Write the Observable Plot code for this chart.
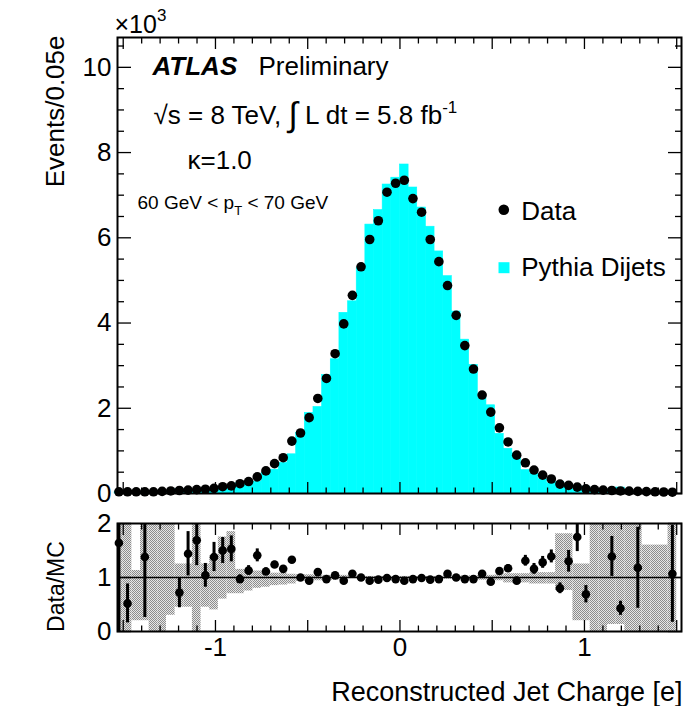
<!DOCTYPE html>
<html>
<head>
<meta charset="utf-8">
<script src="https://cdn.jsdelivr.net/npm/d3@7"></script>
<script src="https://cdn.jsdelivr.net/npm/@observablehq/plot@0.6"></script>
<style>
  html, body { margin: 0; padding: 0; background: #ffffff; }
  #chart { position: relative; width: 685px; height: 706px; background: #ffffff; }
  #chart svg { position: absolute; left: 0; }
</style>
</head>
<body>
<div id="chart"></div>
<script>
// ---------- data (in units of 10^3 events) ----------
const binLow = -1.546875;     // lower edge of the first bin
const binWidth = 0.046875;    // bin width
const mcCounts = [
  0.03, 0.03, 0.02, 0.03, 0.03, 0.04, 0.05, 0.10, 0.055, 0.05,
  0.10, 0.09, 0.11, 0.12, 0.24, 0.25, 0.28, 0.48, 0.56, 0.72,
  0.92, 1.42, 1.89, 2.03, 2.78, 3.15, 4.24, 4.51, 5.30, 6.31,
  6.65, 7.25, 7.41, 7.72, 7.18, 6.71, 6.26, 5.68, 5.10, 4.27,
  3.61, 3.02, 2.25, 2.07, 1.40, 1.05, 0.94, 0.55, 0.47, 0.34,
  0.24, 0.27, 0.15, 0.09, 0.16, 0.04, 0.04, 0.05, 0.14, 0.03,
  0.04, 0.03, 0.02, 0.02, 0.03
];
const dataCounts = [
  0.04, 0.04, 0.04, 0.04, 0.04, 0.05, 0.06, 0.07, 0.08, 0.09,
  0.10, 0.12, 0.16, 0.18, 0.23, 0.28, 0.39, 0.53, 0.70, 0.84,
  1.23, 1.42, 1.78, 2.23, 2.70, 3.28, 3.98, 4.65, 5.32, 5.96,
  6.40, 7.07, 7.28, 7.35, 6.92, 6.60, 5.96, 5.44, 4.88, 4.18,
  3.47, 2.92, 2.31, 1.91, 1.54, 1.21, 0.90, 0.72, 0.55, 0.43,
  0.34, 0.22, 0.19, 0.15, 0.11, 0.09, 0.08, 0.07, 0.06, 0.055,
  0.05, 0.045, 0.04, 0.035, 0.03
];
const ratioValues = [
  1.64, 0.52, null, 1.38, null, null, null, 0.72, 1.44, 1.69,
  1.04, 1.38, 1.50, 1.53, 0.97, 1.13, 1.41, 1.11, 1.24, 1.16,
  1.33, 1.00, 0.94, 1.10, 0.97, 1.04, 0.94, 1.07, 1.00, 0.94,
  0.96, 0.99, 0.97, 0.94, 0.97, 0.99, 0.96, 0.97, 1.07, 1.00,
  0.97, 0.97, 1.07, 0.92, 1.12, 1.17, 0.94, 1.31, 1.16, 1.28,
  1.39, 0.80, 1.30, 1.75, 0.69, null, null, 1.39, 0.43, null,
  1.18, null, null, null, 1.07
];
const ratioErrors = [
  1.80, 0.36, 0, 1.12, 0, 0, 0, 0.28, 0.41, 0.47,
  0.22, 0.27, 0.24, 0.24, 0.08, 0.09, 0.12, 0.07, 0.06, 0.05,
  0.05, 0.04, 0.04, 0.03, 0.03, 0.03, 0.02, 0.02, 0.02, 0.02,
  0.02, 0.02, 0.02, 0.02, 0.02, 0.02, 0.02, 0.02, 0.02, 0.02,
  0.03, 0.03, 0.04, 0.05, 0.06, 0.07, 0.07, 0.10, 0.10, 0.11,
  0.12, 0.10, 0.20, 0.27, 0.16, 0, 0, 0.37, 0.13, 0,
  0.75, 0, 0, 0, 0.90
];
const bandLow = [
  0.00, 0.00, 0.20, 0.20, 0.00, 0.00, 0.30, 0.45, 0.45, 0.00,
  0.45, 0.40, 0.60, 0.70, 0.70, 0.75, 0.80, 0.82, 0.85, 0.86,
  0.88, 0.93, 0.93, 0.94, 0.94, 0.95, 0.95, 0.98, 0.98, 0.98,
  0.98, 0.98, 0.98, 0.98, 0.98, 0.98, 0.98, 0.98, 0.97, 0.97,
  0.96, 0.96, 0.95, 0.95, 0.94, 0.90, 0.90, 0.90, 0.88, 0.88,
  0.88, 0.76, 0.76, 0.20, 0.20, 0.00, 0.00, 0.13, 0.13, 0.00,
  0.00, 0.00, 0.00, 0.00, 0.00
];
const bandHigh = [
  2.00, 2.00, 1.13, 2.00, 2.00, 2.00, 2.00, 1.25, 1.25, 2.00,
  1.25, 1.40, 1.75, 1.85, 1.15, 1.15, 1.12, 1.10, 1.08, 1.08,
  1.06, 1.05, 1.05, 1.04, 1.04, 1.04, 1.04, 1.02, 1.02, 1.02,
  1.02, 1.02, 1.02, 1.02, 1.02, 1.02, 1.02, 1.02, 1.03, 1.03,
  1.03, 1.03, 1.04, 1.04, 1.05, 1.07, 1.07, 1.07, 1.09, 1.09,
  1.09, 1.81, 1.81, 1.25, 1.25, 2.00, 2.00, 2.00, 2.00, 2.00,
  2.00, 1.60, 1.60, 1.60, 2.00
];
const xMajorTicks = [-1.5, -1, -0.5, 0, 0.5, 1, 1.5];
const xTickLabels = [-1, 0, 1];
const yTickLabels = [0, 2, 4, 6, 8, 10];
const ratioTickLabels = [0, 1, 2];
const legendLabels = ["Data", "Pythia Dijets"];
const titles = {
  yTop: "Events/0.05e",
  yRatio: "Data/MC",
  x: "Reconstructed Jet Charge [e]",
  atlas: "ATLAS",
  prelim: "Preliminary",
  kappa: "\u03ba=1.0"
};

// ---------- derived table ----------
const bins = mcCounts.map((mc, i) => ({
  x1: binLow + i * binWidth,
  x2: binLow + (i + 1) * binWidth,
  xc: binLow + (i + 0.5) * binWidth,
  mc,
  data: dataCounts[i],
  ratio: ratioValues[i],
  err: ratioErrors[i],
  lo: bandLow[i],
  hi: bandHigh[i]
}));
const ratioBins = bins.filter(d => d.ratio != null);
const xMinorTicks = d3.range(-15, 16).filter(i => i % 5 !== 0).map(i => i / 10);
const yMinorTicks = d3.range(1, 22).map(i => i / 2).filter(v => v % 2 !== 0);

const FONT = '"Liberation Sans", Arial, Helvetica, sans-serif';
const CYAN = "#00ffff";
const xDomain = [-1.531, 1.526];
const W = 685;

// ---------- top panel ----------
const topPlot = Plot.plot({
  width: W, height: 510,
  marginLeft: 117, marginRight: 4, marginTop: 37, marginBottom: 17,
  x: {domain: xDomain},
  y: {domain: [0, 10.7]},
  style: {fontFamily: FONT, fontSize: "26px", background: "transparent", overflow: "visible", color: "black"},
  marks: [
    Plot.rect(bins, {x1: "x1", x2: "x2", y1: 0, y2: "mc", fill: CYAN, stroke: CYAN, strokeWidth: 0.6}),
    Plot.dot(bins, {x: "xc", y: "data", r: 4.8, fill: "black", stroke: "none"}),
    // inward ticks
    Plot.axisX({anchor: "bottom", ticks: xMajorTicks, tickSize: -11, tickFormat: () => "", label: null, strokeWidth: 1.3}),
    Plot.axisX({anchor: "bottom", ticks: xMinorTicks, tickSize: -5.5, tickFormat: () => "", label: null, strokeWidth: 1.3}),
    Plot.axisX({anchor: "top", ticks: xMajorTicks, tickSize: -11, tickFormat: () => "", label: null, strokeWidth: 1.3}),
    Plot.axisX({anchor: "top", ticks: xMinorTicks, tickSize: -5.5, tickFormat: () => "", label: null, strokeWidth: 1.3}),
    Plot.axisY({anchor: "left", ticks: yTickLabels, tickSize: -14, tickFormat: () => "", label: null, strokeWidth: 1.3}),
    Plot.axisY({anchor: "left", ticks: yMinorTicks, tickSize: -7, tickFormat: () => "", label: null, strokeWidth: 1.3}),
    Plot.axisY({anchor: "right", ticks: yTickLabels, tickSize: -14, tickFormat: () => "", label: null, strokeWidth: 1.3}),
    Plot.axisY({anchor: "right", ticks: yMinorTicks, tickSize: -7, tickFormat: () => "", label: null, strokeWidth: 1.3}),
    Plot.axisY({anchor: "left", ticks: yTickLabels, tickSize: 0, tickPadding: 6, tickFormat: d => String(d), label: null, fontSize: 26}),
    Plot.frame({stroke: "black", strokeWidth: 2}),
    // texts
    Plot.text(["@e3"], {frameAnchor: "top-left", dx: -3, dy: -5, text: d => d, textAnchor: "start", lineAnchor: "bottom", fontSize: 25}),
    Plot.text([titles.yTop], {frameAnchor: "top-left", dx: -54, dy: -2, rotate: -90, text: d => d, textAnchor: "end", lineAnchor: "bottom", fontSize: 26}),
    Plot.text([titles.atlas], {frameAnchor: "top-left", dx: 35, dy: 37, text: d => d, textAnchor: "start", lineAnchor: "bottom", fontSize: 26, fontWeight: "bold", fontStyle: "italic"}),
    Plot.text([titles.prelim], {frameAnchor: "top-left", dx: 141, dy: 37, text: d => d, textAnchor: "start", lineAnchor: "bottom", fontSize: 26}),
    Plot.text(["@lumi"], {frameAnchor: "top-left", dx: 36, dy: 86, text: d => d, textAnchor: "start", lineAnchor: "bottom", fontSize: 26}),
    Plot.text([titles.kappa], {frameAnchor: "top-left", dx: 70, dy: 131, text: d => d, textAnchor: "start", lineAnchor: "bottom", fontSize: 26}),
    Plot.text(["@pt"], {frameAnchor: "top-left", dx: 20, dy: 171, text: d => d, textAnchor: "start", lineAnchor: "bottom", fontSize: 19}),
    // legend
    Plot.dot([legendLabels[0]], {frameAnchor: "top-left", dx: 386.3, dy: 172.3, r: 5.3, fill: "black"}),
    Plot.dot([legendLabels[1]], {frameAnchor: "top-left", dx: 386.5, dy: 230.2, r: 6.2, symbol: "square", fill: CYAN}),
    Plot.text([legendLabels[0]], {frameAnchor: "top-left", dx: 403.7, dy: 182, text: d => d, textAnchor: "start", lineAnchor: "bottom", fontSize: 26}),
    Plot.text([legendLabels[1]], {frameAnchor: "top-left", dx: 403.7, dy: 238, text: d => d, textAnchor: "start", lineAnchor: "bottom", fontSize: 26})
  ]
});

// ---------- ratio panel ----------
const ratioPlot = Plot.plot({
  width: W, height: 196,
  marginLeft: 117, marginRight: 4, marginTop: 13, marginBottom: 75,
  x: {domain: xDomain},
  y: {domain: [0, 2]},
  style: {fontFamily: FONT, fontSize: "26px", background: "transparent", overflow: "visible", color: "black"},
  marks: [
    Plot.rect(bins, {x1: "x1", x2: "x2", y1: "lo", y2: "hi", fill: "url(#mchatch)", clip: true}),
    Plot.ruleY([1], {stroke: "black", strokeWidth: 1.5}),
    Plot.ruleX(ratioBins, {x: "xc", y1: d => d.ratio - d.err, y2: d => d.ratio + d.err, stroke: "black", strokeWidth: 3, clip: true}),
    Plot.dot(ratioBins, {x: "xc", y: "ratio", r: 4.3, fill: "black", stroke: "none"}),
    Plot.axisX({anchor: "bottom", ticks: xMajorTicks, tickSize: -11, tickFormat: () => "", label: null, strokeWidth: 1.3}),
    Plot.axisX({anchor: "bottom", ticks: xMinorTicks, tickSize: -5.5, tickFormat: () => "", label: null, strokeWidth: 1.3}),
    Plot.axisX({anchor: "top", ticks: xMajorTicks, tickSize: -11, tickFormat: () => "", label: null, strokeWidth: 1.3}),
    Plot.axisX({anchor: "top", ticks: xMinorTicks, tickSize: -5.5, tickFormat: () => "", label: null, strokeWidth: 1.3}),
    Plot.axisX({anchor: "bottom", ticks: xTickLabels, tickSize: 0, tickPadding: 6.5, tickFormat: d => (d < 0 ? "-" + Math.abs(d) : String(d)), label: null, fontSize: 26}),
    Plot.axisY({anchor: "left", ticks: ratioTickLabels, tickSize: -14, tickFormat: () => "", label: null, strokeWidth: 1.3}),
    Plot.axisY({anchor: "right", ticks: ratioTickLabels, tickSize: -14, tickFormat: () => "", label: null, strokeWidth: 1.3}),
    Plot.axisY({anchor: "left", ticks: ratioTickLabels, tickSize: 0, tickPadding: 6, tickFormat: d => String(d), label: null, fontSize: 26}),
    Plot.frame({stroke: "black", strokeWidth: 2}),
    Plot.text([titles.yRatio], {frameAnchor: "left", dx: -54, dy: 9, rotate: -90, text: d => d, textAnchor: "middle", lineAnchor: "bottom", fontSize: 23}),
    Plot.text([titles.x], {frameAnchor: "bottom-right", dx: 1, dy: 69, text: d => d, textAnchor: "end", lineAnchor: "bottom", fontSize: 27})
  ]
});

// ---------- rich text (super/subscripts) ----------
function richText(svg, key, parts) {
  const t = d3.select(svg).selectAll("text").filter(function () { return this.textContent === key; });
  if (t.empty()) return;
  t.text(null);
  parts.forEach(p => {
    const s = t.append("tspan").text(p.t);
    if (p.size) s.attr("font-size", p.size);
    if (p.dy != null) s.attr("dy", p.dy);
  });
}
richText(topPlot, "@e3", [{t: "\u00d710"}, {t: "3", size: 17, dy: -12}]);
richText(topPlot, "@lumi", [
  {t: "\u221as = 8 TeV, "}, {t: "\u222b", size: 34, dy: 2}, {t: " L dt = 5.8 fb", dy: -2},
  {t: "-1", size: 17, dy: -11}
]);
richText(topPlot, "@pt", [{t: "60 GeV < p"}, {t: "T", size: 13, dy: 6}, {t: " < 70 GeV", dy: -6}]);

// hatch pattern for the MC uncertainty band
const defs = d3.select(ratioPlot).insert("defs", ":first-child");
const pat = defs.append("pattern").attr("id", "mchatch").attr("patternUnits", "userSpaceOnUse")
  .attr("width", 2).attr("height", 2);
pat.append("rect").attr("width", 2).attr("height", 2).attr("fill", "#e6e6e6");
pat.append("rect").attr("x", 0).attr("y", 0).attr("width", 1).attr("height", 1).attr("fill", "#8c8c8c");
pat.append("rect").attr("x", 1).attr("y", 1).attr("width", 1).attr("height", 1).attr("fill", "#8c8c8c");

const chart = document.getElementById("chart");
topPlot.style.top = "0px";
ratioPlot.style.top = "510px";
chart.appendChild(topPlot);
chart.appendChild(ratioPlot);
</script>
</body>
</html>
